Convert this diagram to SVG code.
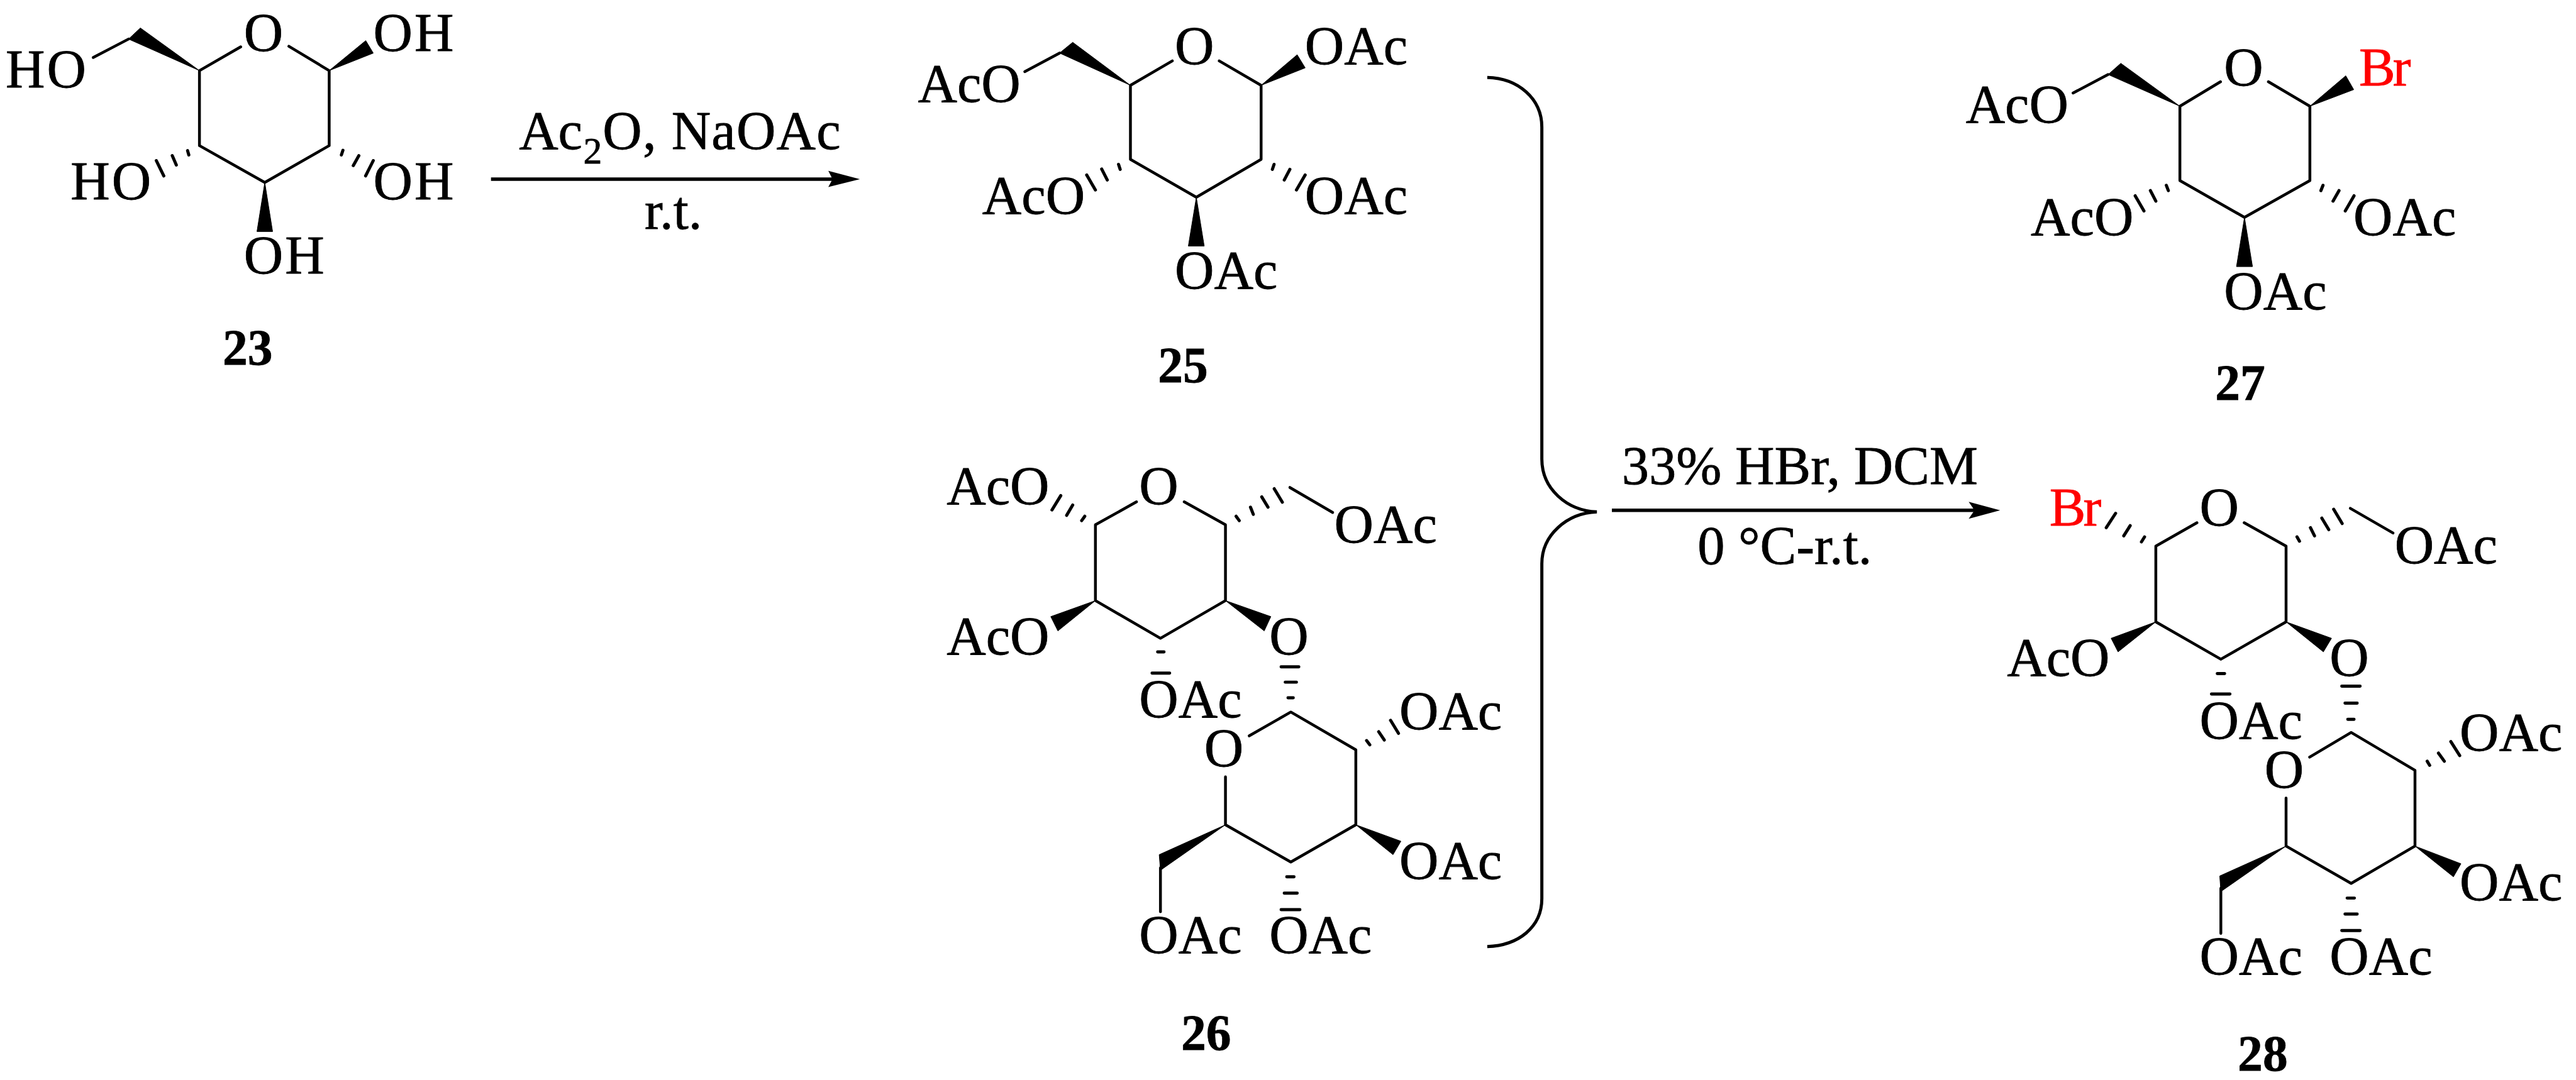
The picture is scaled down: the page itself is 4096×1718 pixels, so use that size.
<svg xmlns="http://www.w3.org/2000/svg" width="4096" height="1718" viewBox="0 0 4096 1718">
<style>
text{font-family:"Liberation Serif","Times New Roman",serif;font-size:87px;fill:#000;stroke:#000;stroke-width:0.8}
.n{font-size:80px;font-weight:bold}
.hh{letter-spacing:3px}
.sub{font-size:60px}
.red{fill:#f00;stroke:#f00;letter-spacing:-4px}
.b{fill:none;stroke:#000;stroke-width:4.5;stroke-linecap:round;stroke-linejoin:round}
.h{fill:none;stroke:#000;stroke-width:5;stroke-linecap:round}
.w{fill:#000;stroke:#000;stroke-width:1;stroke-linejoin:round}
.a{fill:none;stroke:#000;stroke-width:5.5}
.br{fill:none;stroke:#000;stroke-width:5}
.ah{fill:#000}
</style>
<rect width="4096" height="1718" fill="#fff"/>
<g transform="scale(0.99417)">
<g id="connectors">
<path class="a" d="M785.3 286.7H1335"/>
<polygon class="ah" points="1375.3,286.7 1324.8,273.3 1331.5,286.7 1324.8,299.3"/>
<path class="br" d="M2378.7 124C2428 125 2466 158 2466 203.5V734.6C2466 782 2506 817 2554 819C2506 821 2466 856 2466 902V1438C2466 1484 2428 1513 2378.7 1514.5"/>
<path class="a" d="M2578 816.5H3160"/>
<polygon class="ah" points="3199,816.5 3148.7,803 3158,816.5 3148.7,830"/>
<text id="reagent-1a" x="830" y="238"><tspan>Ac</tspan><tspan class="sub" x="933" y="262">2</tspan><tspan x="964" y="238" letter-spacing="1.2">O, NaOAc</tspan></text>
<text id="reagent-1b" x="1031" y="366">r.t.</text>
<text id="reagent-2a" x="2594" y="775">33% HBr, DCM</text>
<text id="reagent-2b" x="2715" y="902">0 °C-r.t.</text>
</g>
<g id="mol-23">
<path class="b" d="M385 75L319 113V233L423.5 292L526.5 233V113L462 74"/>
<path class="b" d="M205.6 62.5L149 92"/>
<polygon class="w" points="319,113 224.5,44.7 205.6,62.5"/>
<polygon class="w" points="526.5,113 585,65 597,85"/>
<polygon class="w" points="423.5,292 411,370.5 436,370.5"/>
<path class="h" d="M300 241L302 248M275.5 249L282 264M250 257L262 281.5M548.5 240.4L546 248M574 249L565 265M597 257L584.7 281.5"/>
<text x="390" y="81">O</text>
<text class="hh" x="9" y="140">HO</text>
<text class="hh" x="597" y="81">OH</text>
<text class="hh" x="113" y="319">HO</text>
<text class="hh" x="597" y="319">OH</text>
<text class="hh" x="390" y="438">OH</text>
<text class="n" x="356" y="583">23</text>
</g>
<g id="mol-25">
<path class="b" d="M1875 97.5L1808 136.5V255L1913.4 315.6L2017 255V136.5L1950 97.5"/>
<path class="b" d="M1694.6 84.9L1639 114.7"/>
<polygon class="w" points="1808,136.5 1715.7,67.7 1694.6,84.9"/>
<polygon class="w" points="2017,136.5 2074.7,87.6 2087.5,108.6"/>
<polygon class="w" points="1913.4,315.6 1900.6,393.7 1926,393.7"/>
<path class="h" d="M1789 263L1791.6 271M1762 270.5L1771 288M1738 280L1752 304M2037.7 263L2035 271M2063 271L2054 288M2087.5 280L2073.5 304"/>
<text x="1879" y="103">O</text>
<text x="1468" y="163">AcO</text>
<text x="2087" y="103">OAc</text>
<text x="1571" y="342">AcO</text>
<text x="2087" y="342">OAc</text>
<text x="1879" y="462">OAc</text>
<text class="n" x="1852" y="612">25</text>
</g>
<g id="mol-26">
<path class="b" d="M1817.7 803L1752 839.7V961L1856 1021.3L1960 961V839.7L1894 803"/>
<path class="b" d="M2063 780L2131.5 820"/>
<path class="b" d="M1998 1177.4L2064.5 1139.3L2168.5 1199.7V1319.7L2064.5 1379.3L1960 1319.7V1243"/>
<path class="b" d="M1856 1388.5V1458.7"/>
<polygon class="w" points="1752,961 1680.6,986.6 1692,1009.5"/>
<polygon class="w" points="1960,961 2032.6,986.6 2022,1009.5"/>
<polygon class="w" points="2168.5,1319.7 2240.6,1346 2228,1367.5"/>
<polygon class="w" points="1960,1319.7 1854,1367.5 1856,1392.5"/>
<path class="h" d="M1735 826L1730 833M1715.7 808L1706 824.6M1696.6 793L1682.5 816M1977 826L1982 833M2000 811.5L2004.5 823M2018 795L2028 811.5M2038 782L2051 803.6M1851.5 1043H1861.7M1842.6 1077H1870.7M2049 1067H2077.3M2055.6 1091.5H2073.5M2060 1116.4H2068.4M2185.7 1185L2190.8 1191.8M2205 1170.8L2214 1184M2224 1152.5L2236.7 1173.4M2058 1403H2069.6M2054 1429H2074.7M2049 1455.4H2079"/>
<text x="1822" y="807">O</text>
<text x="1514" y="807">AcO</text>
<text x="2134" y="868">OAc</text>
<text x="1514" y="1047">AcO</text>
<text x="2030" y="1047">O</text>
<text x="1822" y="1148">OAc</text>
<text x="1926" y="1226">O</text>
<text x="2238" y="1167">OAc</text>
<text x="2238" y="1406">OAc</text>
<text x="2030" y="1525">OAc</text>
<text x="1822" y="1525">OAc</text>
<text class="n" x="1889" y="1680">26</text>
</g>
<g id="mol-27">
<path class="b" d="M3551.5 130.8L3486.5 170V289L3589.8 347.8L3694.4 289V170L3628 130.8"/>
<path class="b" d="M3371.7 119.3L3315.6 148.8"/>
<polygon class="w" points="3486.5,170 3392,101.3 3371.7,119.3"/>
<polygon class="w" points="3694.4,170 3751.8,121.2 3764.5,143.4"/>
<polygon class="w" points="3589.8,347.8 3577,426.6 3602.6,426.6"/>
<path class="h" d="M3464.8 296.5L3468 305M3439.3 305L3448 321.8M3415 313.3L3429 337.5M3715.4 296.5L3712 305M3741 305L3731.4 321.8M3765 313.3L3751 337.5"/>
<text x="3557" y="137">O</text>
<text class="red" x="3773" y="137">Br</text>
<text x="3144" y="196">AcO</text>
<text x="3248" y="376">AcO</text>
<text x="3764" y="376">OAc</text>
<text x="3557" y="495">OAc</text>
<text class="n" x="3543" y="640">27</text>
</g>
<g id="mol-28">
<path class="b" d="M3513.8 836.4L3448 873.8V995L3552 1054.8L3656.3 995V873.8L3589.3 836.4"/>
<path class="b" d="M3759 813.4L3827.4 852.8"/>
<path class="b" d="M3694 1211.5L3760.4 1172L3862.5 1232.5V1353.8L3760.4 1413.5L3656.3 1353.8V1277"/>
<path class="b" d="M3552 1421.3V1493.5"/>
<polygon class="w" points="3448,995 3376.5,1021.3 3387.6,1043"/>
<polygon class="w" points="3656.3,995 3729,1021.3 3716,1043"/>
<polygon class="w" points="3862.5,1353.8 3936,1382 3924,1403"/>
<polygon class="w" points="3656.3,1353.8 3550.2,1401.6 3552,1426.6"/>
<path class="h" d="M3430 859L3425 867M3407 841L3396.7 857.4M3383.7 821.3L3368.7 844.3M3673.8 859L3677.8 866M3695.3 844.3L3701.8 857.4M3713.5 829L3724.6 847.5M3732.4 814.8L3746 837.7M3546.3 1077.7H3558M3537 1110.5H3566.5M3745.4 1098H3774.7M3750.6 1125H3770M3755 1151H3765M3882 1218L3886 1224.6M3900 1205L3909.4 1218M3919.8 1186.6L3934 1209M3754 1437H3765.6M3750.6 1462.6H3770M3745.4 1488.9H3774.7"/>
<text x="3518" y="841">O</text>
<text class="red" x="3278" y="841">Br</text>
<text x="3830" y="901">OAc</text>
<text x="3210" y="1081">AcO</text>
<text x="3726" y="1081">O</text>
<text x="3518" y="1182">OAc</text>
<text x="3622" y="1260">O</text>
<text x="3934" y="1201">OAc</text>
<text x="3934" y="1440">OAc</text>
<text x="3726" y="1559">OAc</text>
<text x="3518" y="1559">OAc</text>
<text class="n" x="3579" y="1713">28</text>
</g>
</g>
</svg>
